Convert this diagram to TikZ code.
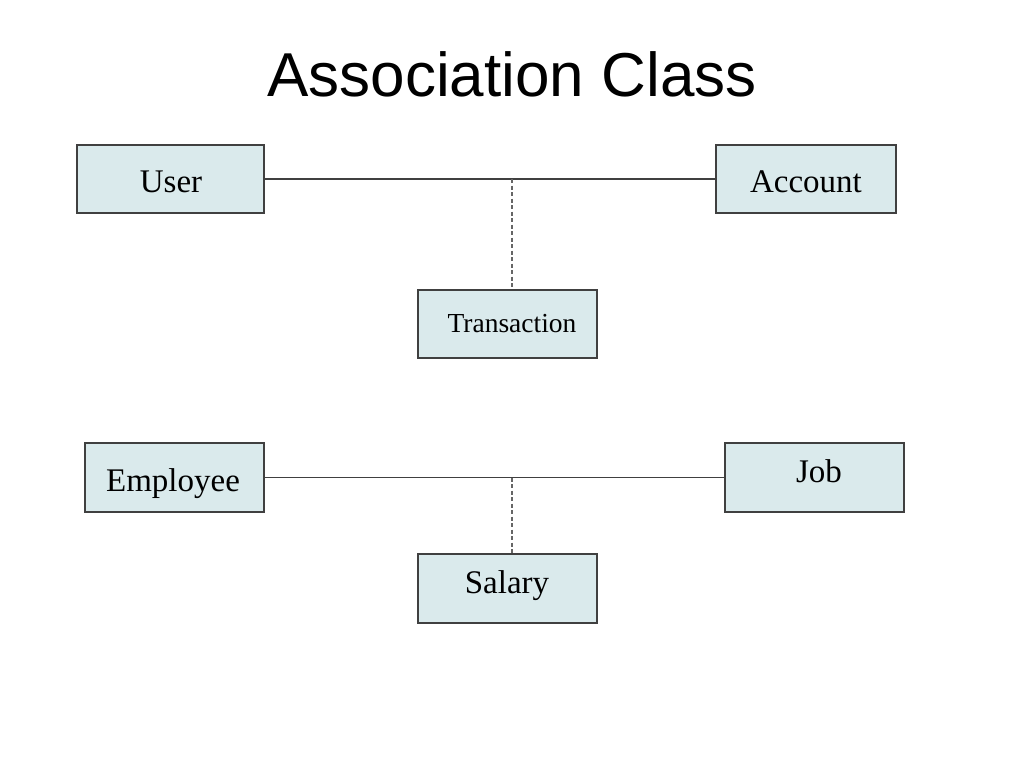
\documentclass[tikz,border=0pt]{standalone}
\usepackage{fontspec}
\setmainfont{Liberation Serif}
\newfontfamily\titlefont{Liberation Sans}
\definecolor{boxfill}{HTML}{DAEAEC}
\definecolor{boxline}{HTML}{404040}
\begin{document}
\begin{tikzpicture}[x=1pt,y=-1pt,
  classbox/.style={draw=boxline, fill=boxfill, line width=1.3pt, inner sep=0pt},
  lbl/.style={inner sep=0pt, anchor=base, font=\fontsize{33}{36}\selectfont},
  assoc/.style={draw=boxline, line width=1.3pt},
  assocdash/.style={draw=boxline!80, line width=1.3pt, dash pattern=on 4pt off 2.5pt}]
\useasboundingbox (0,0) rectangle (1024,768);
\node[inner sep=0pt, anchor=base, font=\titlefont\fontsize{62}{70}\selectfont] (title) at (512,96) {Association Class};
% boxes
\node[classbox, minimum width=187pt, minimum height=68pt] (user) at (170.5,179) {};
\node[classbox, minimum width=180pt, minimum height=68pt] (account) at (806,179) {};
\node[classbox, minimum width=179pt, minimum height=68pt] (trans) at (507.5,324) {};
\node[classbox, minimum width=179pt, minimum height=69pt] (emp) at (174.5,477.5) {};
\node[classbox, minimum width=179pt, minimum height=69pt] (job) at (814.5,477.5) {};
\node[classbox, minimum width=179pt, minimum height=69pt] (sal) at (507.5,588.5) {};
% labels
\node[lbl] (usert) at (171,192) {User};
\node[lbl] (accountt) at (806,192) {Account};
\node[lbl, font=\fontsize{27.5}{30}\selectfont] (transt) at (512,332) {Transaction};
\node[lbl] (empt) at (173,491) {Employee};
\node[lbl] (jobt) at (819,482) {Job};
\node[lbl] (salt) at (507,593) {Salary};
% connectors
\draw[assoc] (user.east) -- (account.west);
\coordinate (m1) at (512,179);
\draw[assocdash] (m1) -- (m1 |- trans.north);
\draw[assoc] (emp.east) -- (job.west);
\coordinate (m2) at (512,477.5);
\draw[assocdash] (m2) -- (m2 |- sal.north);
\end{tikzpicture}
\end{document}
